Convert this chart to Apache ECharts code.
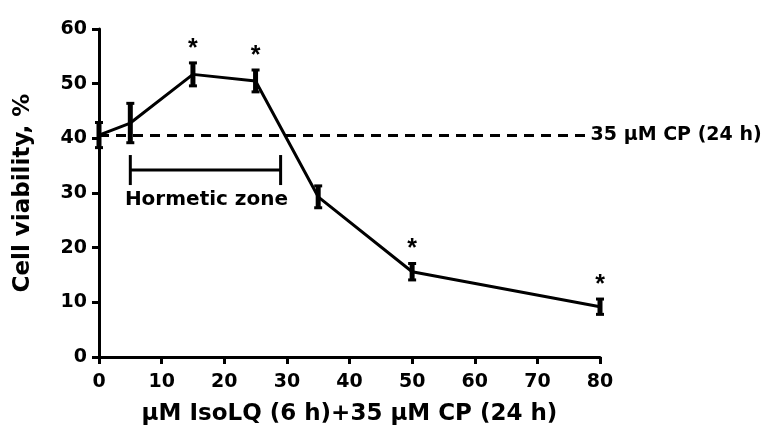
<!DOCTYPE html>
<html>
<head>
<meta charset="utf-8">
<script src="https://cdn.jsdelivr.net/npm/echarts@6/dist/echarts.min.js"></script>
<style>
  html, body { margin: 0; padding: 0; background: #fff; }
  #chart { width: 772px; height: 439px; }
</style>
</head>
<body>
<div id="chart"></div>
<script>
// doses (µM IsoLQ) and viability
const doses = [0, 5, 15, 25, 35, 50, 80];
const viability = [40.6, 42.8, 51.7, 50.5, 29.3, 15.6, 9.2];
const sem = [2.3, 3.6, 2.1, 2.0, 2.0, 1.5, 1.4];
const significant = [false, false, true, true, false, true, true];
const xTicks = [0, 10, 20, 30, 40, 50, 60, 70, 80];
const yTicks = [0, 10, 20, 30, 40, 50, 60];

// control level (35 µM CP alone) and hormetic zone
const controlLevel = 40.6;
const controlSpan = [0, 78.5];
const zoneRange = [5, 29];
const zoneLevel = 34.2;

const font = '"DejaVu Sans", sans-serif';
const myChart = echarts.init(document.getElementById('chart'));

const option = {
  animation: false,
  grid: { left: 99, right: 172, top: 29, bottom: 82 },
  xAxis: {
    type: 'value',
    min: xTicks[0],
    max: xTicks[xTicks.length - 1],
    interval: 10,
    name: 'μM IsoLQ (6 h)+35 μM CP (24 h)',
    nameLocation: 'middle',
    nameGap: 46,
    nameTextStyle: { color: '#000', fontSize: 23, fontWeight: 'bold', fontFamily: font },
    splitLine: { show: false },
    axisLine: { onZero: false, lineStyle: { color: '#000', width: 3 } },
    axisTick: { length: 7, lineStyle: { color: '#000', width: 3 } },
    axisLabel: { color: '#000', fontSize: 19, fontWeight: 'bold', fontFamily: font, margin: 16 }
  },
  yAxis: {
    type: 'value',
    min: yTicks[0],
    max: yTicks[yTicks.length - 1],
    interval: 10,
    name: 'Cell viability, %',
    nameLocation: 'middle',
    nameGap: 64,
    nameTextStyle: { color: '#000', fontSize: 23, fontWeight: 'bold', fontFamily: font },
    splitLine: { show: false },
    axisLine: { show: true, lineStyle: { color: '#000', width: 3 } },
    axisTick: { show: true, length: 7, lineStyle: { color: '#000', width: 3 } },
    axisLabel: { color: '#000', fontSize: 19, fontWeight: 'bold', fontFamily: font, margin: 12 }
  },
  series: [
    {
      name: 'viability',
      type: 'line',
      data: doses.map((d, i) => [d, viability[i]]),
      symbol: 'none',
      lineStyle: { color: '#000', width: 3 },
      z: 3,
      markLine: {
        silent: true,
        symbol: 'none',
        lineStyle: { color: '#000', width: 3, type: [10, 7] },
        label: {
          show: true,
          position: 'end',
          distance: 0,
          formatter: '35 μM CP (24 h)',
          color: '#000',
          fontSize: 19,
          fontWeight: 'bold',
          fontFamily: font
        },
        data: [[{ coord: [controlSpan[0], controlLevel] }, { coord: [controlSpan[1], controlLevel] }]]
      }
    },
    {
      name: 'sem',
      type: 'custom',
      z: 4,
      data: doses.map((d, i) => [d, viability[i] - sem[i], viability[i] + sem[i], significant[i] ? 1 : 0]),
      renderItem: function (params, api) {
        const lo = api.coord([api.value(0), api.value(1)]);
        const hi = api.coord([api.value(0), api.value(2)]);
        const x = lo[0];
        const children = [
          { type: 'line', shape: { x1: x, y1: lo[1], x2: x, y2: hi[1] }, style: { stroke: '#000', lineWidth: 5 } },
          { type: 'line', shape: { x1: x - 4, y1: lo[1], x2: x + 4, y2: lo[1] }, style: { stroke: '#000', lineWidth: 3 } },
          { type: 'line', shape: { x1: x - 4, y1: hi[1], x2: x + 4, y2: hi[1] }, style: { stroke: '#000', lineWidth: 3 } }
        ];
        if (api.value(3)) {
          children.push({
            type: 'text',
            style: {
              text: '*', x: x, y: hi[1] - 14,
              align: 'center', verticalAlign: 'middle',
              fill: '#000', fontSize: 25, fontWeight: 'bold', fontFamily: 'Liberation Sans, sans-serif'
            }
          });
        }
        return { type: 'group', children: children };
      }
    },
    {
      name: 'zone',
      type: 'custom',
      z: 4,
      data: [[zoneRange[0], zoneRange[1], zoneLevel]],
      renderItem: function (params, api) {
        const a = api.coord([api.value(0), api.value(2)]);
        const b = api.coord([api.value(1), api.value(2)]);
        return {
          type: 'group',
          children: [
            { type: 'line', shape: { x1: a[0], y1: a[1], x2: b[0], y2: b[1] }, style: { stroke: '#000', lineWidth: 3 } },
            { type: 'line', shape: { x1: a[0], y1: a[1] - 15, x2: a[0], y2: a[1] + 15 }, style: { stroke: '#000', lineWidth: 3 } },
            { type: 'line', shape: { x1: b[0], y1: b[1] - 15, x2: b[0], y2: b[1] + 15 }, style: { stroke: '#000', lineWidth: 3 } },
            {
              type: 'text',
              style: {
                text: 'Hormetic zone', x: (a[0] + b[0]) / 2 + 1, y: a[1] + 30,
                align: 'center', verticalAlign: 'middle',
                fill: '#000', fontSize: 20, fontWeight: 'bold', fontFamily: font
              }
            }
          ]
        };
      }
    }
  ]
};
myChart.setOption(option);
</script>
</body>
</html>
